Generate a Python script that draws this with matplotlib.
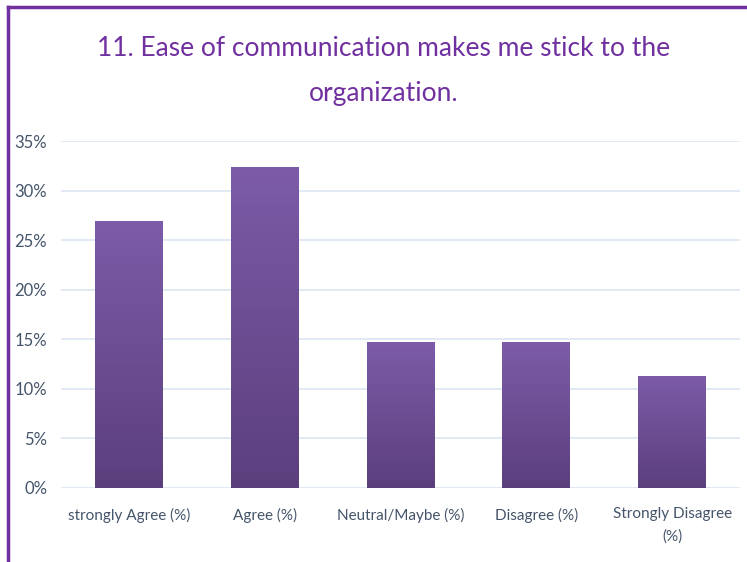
import matplotlib.pyplot as plt
import numpy as np
from matplotlib.lines import Line2D

categories = ["strongly Agree (%)", "Agree (%)", "Neutral/Maybe (%)",
              "Disagree (%)", "Strongly Disagree\n(%)"]
values = [26.9, 32.4, 14.7, 14.7, 11.3]
yticks = [0, 5, 10, 15, 20, 25, 30, 35]

title_color = "#7030A0"
label_color = "#44546A"
grid_color = "#DCE6F2"
top_color = np.array([0x7D, 0x5B, 0xA8]) / 255
bottom_color = np.array([0x5B, 0x3F, 0x7D]) / 255

plt.rcParams["font.family"] = ["Lato", "DejaVu Sans"]

fig = plt.figure(figsize=(7.47, 5.62), dpi=100)
ax = fig.add_axes([61 / 747, 1 - 488 / 562, 679 / 747, 347 / 562])

x = np.arange(len(categories))
bars = ax.bar(x, values, width=0.5, color="none", edgecolor="none", zorder=3)

# vertical gradient inside each bar
grad = np.linspace(0, 1, 256)[:, None, None]
img = bottom_color * (1 - grad) + top_color * grad
for b in bars:
    x0, w, h = b.get_x(), b.get_width(), b.get_height()
    im = ax.imshow(img, extent=[x0, x0 + w, 0, h], origin="lower",
                   aspect="auto", zorder=3, interpolation="bilinear")
    im.set_clip_path(b)

ax.set_xlim(-0.5, len(categories) - 0.5)
ax.set_ylim(0, 35)
ax.set_yticks(yticks)
ax.set_yticklabels([f"{t}%" for t in yticks], fontsize=12)
ax.set_xticks(x)
ax.set_xticklabels(categories, fontsize=11, linespacing=1.7)
ax.grid(axis="y", color=grid_color, linewidth=1.2, zorder=0)
ax.set_axisbelow(True)
for s in ax.spines.values():
    s.set_visible(False)
ax.tick_params(length=0, colors=label_color)
ax.tick_params(axis="x", pad=14)
ax.tick_params(axis="y", pad=10)

fig.text(384 / 747, 1 - 48 / 562, "11. Ease of communication makes me stick to the",
         ha="center", va="center", color=title_color, fontsize=19)
fig.text(384 / 747, 1 - 93 / 562, "organization.",
         ha="center", va="center", color=title_color, fontsize=19)

# purple frame on the left and top edges
fig.add_artist(Line2D([8 / 747, 8 / 747], [0, 1 - 7 / 562],
                      color="#7030A0", linewidth=2.5, transform=fig.transFigure))
fig.add_artist(Line2D([8 / 747, 1], [1 - 7 / 562, 1 - 7 / 562],
                      color="#7030A0", linewidth=2.5, transform=fig.transFigure))

fig.savefig("out.png", dpi=100)
